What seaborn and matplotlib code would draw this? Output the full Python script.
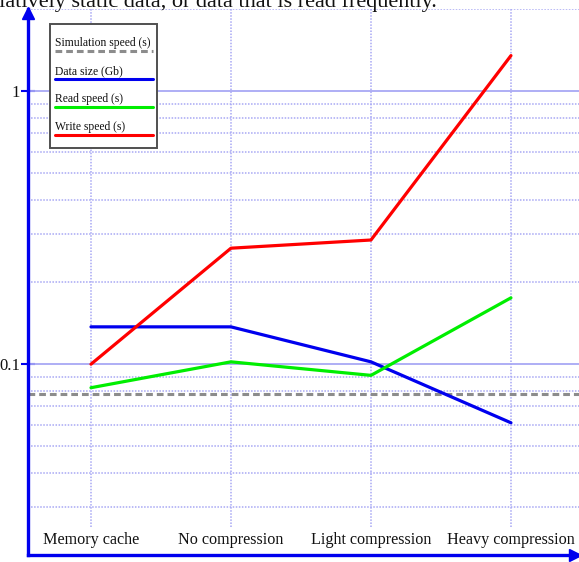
import numpy as np
import pandas as pd
import matplotlib
matplotlib.use("Agg")
import matplotlib.pyplot as plt
import seaborn as sns
from matplotlib.lines import Line2D
from matplotlib.patches import Rectangle

# ---- data ----
categories = ["Memory cache", "No compression", "Light compression", "Heavy compression"]
data_size = [0.137, 0.137, 0.102, 0.061]
read_speed = [0.082, 0.102, 0.091, 0.175]
write_speed = [0.100, 0.266, 0.285, 1.35]
simulation_speed = 0.078
series_names = ["Data size (Gb)", "Read speed (s)", "Write speed (s)"]
sim_name = "Simulation speed (s)"
ytick_vals = [0.1, 1]
ytick_labels = ["0.1", "1"]

colors = {"Data size (Gb)": "#0000ee", "Read speed (s)": "#00ee00", "Write speed (s)": "#ff0000"}
GRID = "#a8a8f4"
AXC = "#0000ee"

df = pd.DataFrame({
    "Method": categories * 3,
    "value": data_size + read_speed + write_speed,
    "series": sum([[n] * len(categories) for n in series_names], []),
})

sns.set_theme(style="white")
plt.rcParams["font.family"] = ["Liberation Serif", "DejaVu Serif"]

W, H = 579, 562
fig = plt.figure(figsize=(W / 100, H / 100), dpi=100)
ax_l, ax_r, ax_t, ax_b = 28, 579, 9, 555
ax = fig.add_axes([ax_l / W, 1 - ax_b / H, (ax_r - ax_l) / W, (ax_b - ax_t) / H])

ax.set_yscale("log")
ax.set_ylim(0.02, 2)

# grid
minor_vals = [k * 10.0 ** e for e in (-2, -1) for k in range(2, 10)] + [2.0]
for v in minor_vals:
    ax.axhline(v, color=GRID, lw=1.1, ls=(0, (1, 1)), zorder=0.5)
for v in ytick_vals:
    ax.axhline(v, color=GRID, lw=1.3, ls="-", zorder=0.6)
ax.vlines(range(len(categories)), 0.0253, 2, color=GRID, lw=1.1, ls=(0, (1, 1)), zorder=0.5)

# simulation speed
ax.axhline(simulation_speed, color="#8c8c8c", lw=2.2, ls=(0, (2.2, 1.3)), zorder=1)

sns.lineplot(data=df, x="Method", y="value", hue="series", palette=colors,
             hue_order=series_names, legend=False, lw=2.3, ax=ax, zorder=3)

ax.set_xlim(-0.45, 3.486)
ax.set_ylim(0.02, 2)
ax.set_xlabel("")
ax.set_ylabel("")

# ticks
ax.yaxis.set_major_locator(matplotlib.ticker.FixedLocator(ytick_vals))
ax.yaxis.set_major_formatter(matplotlib.ticker.FixedFormatter(ytick_labels))
ax.yaxis.set_minor_locator(matplotlib.ticker.NullLocator())
ax.tick_params(axis="y", which="major", direction="inout", length=9.5, width=1.5,
               color=AXC, labelsize=12, pad=1, left=True)
ax.tick_params(axis="x", length=0, pad=-16.5, labelsize=11.6)
for lab in ax.get_xticklabels():
    lab.set_color("#111111")
for lab in ax.get_yticklabels():
    lab.set_color("#111111")

# spines
for s in ("top", "right"):
    ax.spines[s].set_visible(False)
for s in ("left", "bottom"):
    ax.spines[s].set_color(AXC)
    ax.spines[s].set_linewidth(2.4)
ax.plot([0], [0.992], marker="^", ms=9, color=AXC, transform=ax.transAxes, clip_on=False, zorder=5)
ax.plot([0.993], [0], marker=">", ms=9, color=AXC, transform=ax.transAxes, clip_on=False, zorder=5)


def fx(px):
    return px / W


def fy(py):
    return 1 - py / H


# legend drawn manually
fig.add_artist(Rectangle((fx(50), fy(148)), fx(157) - fx(50), fy(24) - fy(148),
                         transform=fig.transFigure, facecolor="white", edgecolor="#505050",
                         lw=1.4, zorder=10))
leg_items = [(sim_name, "#8c8c8c", (0, (2.2, 1.3))),
             (series_names[0], colors[series_names[0]], "-"),
             (series_names[1], colors[series_names[1]], "-"),
             (series_names[2], colors[series_names[2]], "-")]
for i, (name, col, ls) in enumerate(leg_items):
    ty = 46 + i * 28
    ly = 51 + i * 28
    fig.text(fx(55), fy(ty), name, fontsize=8.4, ha="left", va="baseline",
             color="#111111", zorder=11)
    fig.add_artist(Line2D([fx(55), fx(153)], [fy(ly), fy(ly)], transform=fig.transFigure,
                          color=col, lw=2.2, ls=ls, zorder=11))

# cut-off page text above
fig.text(fx(437), fy(7), "relatively static data, or data that is read frequently.",
         fontsize=16, ha="right", va="baseline", color="#111111")

fig.savefig("out.png", dpi=100)
